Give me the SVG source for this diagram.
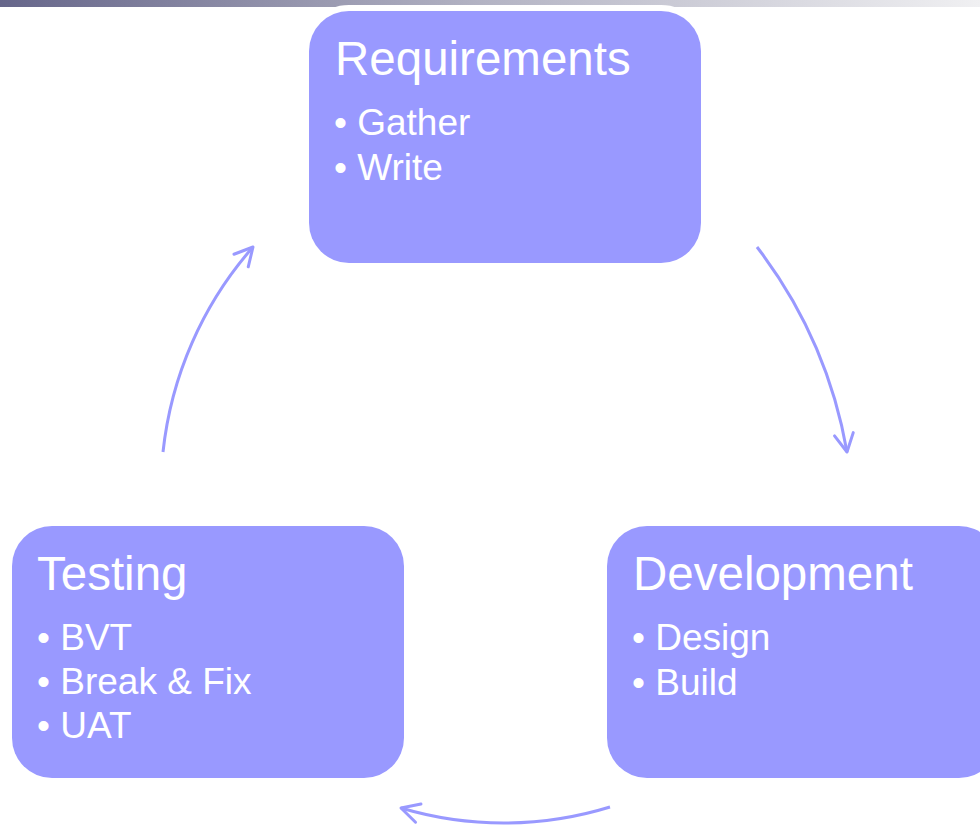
<svg xmlns="http://www.w3.org/2000/svg" width="980" height="825" viewBox="0 0 980 825">
  <defs>
    <linearGradient id="bar" x1="0" y1="0" x2="1" y2="0">
      <stop offset="0" stop-color="#66668a"/>
      <stop offset="0.5" stop-color="#b4b4c4"/>
      <stop offset="1" stop-color="#f0f0f2"/>
    </linearGradient>
    <marker id="chev" markerUnits="userSpaceOnUse" orient="auto" refX="0" refY="0" markerWidth="40" markerHeight="40" overflow="visible">
      <path d="M-18,-9.5 L0,0 L-18,9.5" fill="none" stroke="#9999ff" stroke-width="3" stroke-linecap="round" stroke-linejoin="round"/>
    </marker>
    <style>
      .box { fill: #9999ff; stroke: #ffffff; stroke-width: 12; paint-order: stroke; }
      .title { font-family: "Liberation Sans", Arial, sans-serif; font-size: 47.5px; fill: #ffffff; }
      .item { font-family: "Liberation Sans", Arial, sans-serif; font-size: 37px; fill: #ffffff; }
      .conn { fill: none; stroke: #9999ff; stroke-width: 3; marker-end: url(#chev); }
    </style>
  </defs>
  <rect x="0" y="0" width="980" height="825" fill="#ffffff"/>
  <rect x="0" y="0" width="980" height="7" fill="url(#bar)"/>

  <g id="connectors">
    <path class="conn" d="M757,247 A470,470 0 0 1 847,452"/>
    <path class="conn" d="M610,807 A360,360 0 0 1 401,808"/>
    <path class="conn" d="M163,452 A370,370 0 0 1 253,247"/>
  </g>

  <g id="requirements">
    <rect class="box" x="309" y="11" width="392" height="252" rx="40" ry="40"/>
    <text class="title" x="335" y="75">Requirements</text>
    <text class="item" x="334" y="135">• Gather</text>
    <text class="item" x="334" y="180">• Write</text>
  </g>

  <g id="development">
    <rect class="box" x="607" y="526" width="392" height="252" rx="40" ry="40"/>
    <text class="title" x="633" y="590">Development</text>
    <text class="item" x="632" y="650">• Design</text>
    <text class="item" x="632" y="695">• Build</text>
  </g>

  <g id="testing">
    <rect class="box" x="12" y="526" width="392" height="252" rx="40" ry="40"/>
    <text class="title" x="37" y="590">Testing</text>
    <text class="item" x="37" y="650">• BVT</text>
    <text class="item" x="37" y="694">• Break &amp; Fix</text>
    <text class="item" x="37" y="738">• UAT</text>
  </g>
</svg>
